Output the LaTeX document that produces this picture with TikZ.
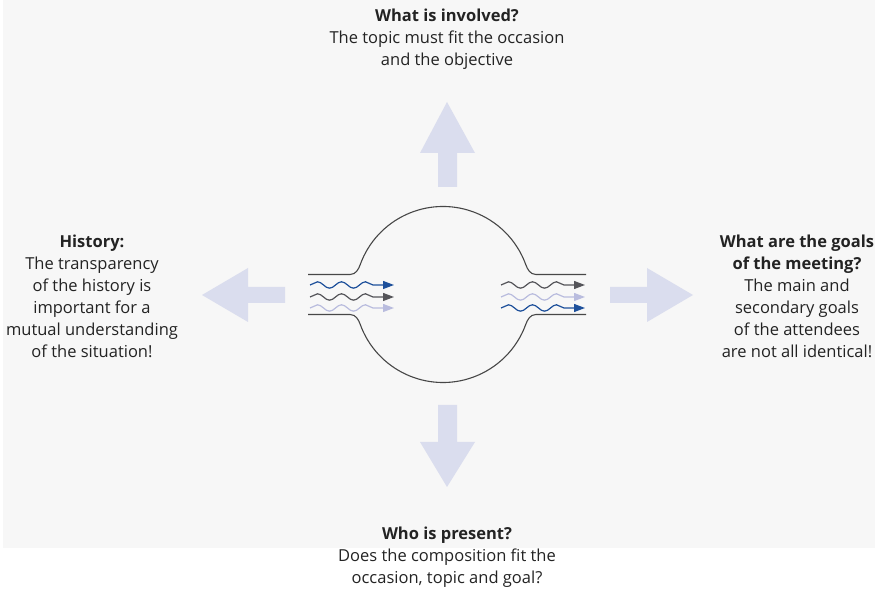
\documentclass[tikz,border=0pt]{standalone}
\usepackage{fontspec}
\setmainfont{Open Sans}
\usetikzlibrary{decorations.pathmorphing,arrows.meta}
\definecolor{pagegray}{RGB}{247,247,247}
\definecolor{bigarrowfill}{RGB}{218,221,238}
\definecolor{wblue}{RGB}{30,80,155}
\definecolor{wgray}{RGB}{85,85,90}
\definecolor{wlav}{RGB}{185,188,222}
\definecolor{txt}{RGB}{35,35,35}

\begin{document}
\begin{tikzpicture}[x=1pt,y=1pt,
  labeltext/.style={align=center, inner sep=0pt, anchor=north, text=txt,
    font=\fontsize{16.5}{22}\selectfont},
  flow/.style={line width=1.2pt, decorate,
    decoration={snake, segment length=24pt, amplitude=3.2pt, post length=10pt},
    -{Triangle[length=11pt,width=8pt]}},
  wall/.style={draw=black!72, line width=1.1pt},
  bigarrow/.style={fill=bigarrowfill}]

\useasboundingbox (0,0) rectangle (878,589);
\fill[pagegray] (3,41) rectangle (875,589);

% the room: a round chamber with an inlet and an outlet tube
\begin{scope}[yshift=0.5pt]
\draw[wall] (308,314) -- (350,314)
  .. controls (356,314) and (358.6,319.4) .. (360.3,324.1)
  arc[start angle=160, end angle=20, radius=88]
  .. controls (527.4,319.4) and (530,314) .. (536,314) -- (586,314);
\draw[wall] (308,274) -- (350,274)
  .. controls (356,274) and (358.6,268.6) .. (360.3,263.9)
  arc[start angle=200, end angle=340, radius=88]
  .. controls (527.4,268.6) and (530,274) .. (536,274) -- (586,274);
\end{scope}

% incoming flows
\coordinate (inA0) at (310,304); \coordinate (inA1) at (394,304);
\coordinate (inB0) at (310,292); \coordinate (inB1) at (394,292);
\coordinate (inC0) at (310,281); \coordinate (inC1) at (394,281);
\draw[flow, wblue] (inA0) -- (inA1);
\draw[flow, wgray] (inB0) -- (inB1);
\draw[flow, wlav]  (inC0) -- (inC1);

% outgoing flows
\coordinate (outA0) at (501,304); \coordinate (outA1) at (585,304);
\coordinate (outB0) at (501,292); \coordinate (outB1) at (585,292);
\coordinate (outC0) at (501,281); \coordinate (outC1) at (585,281);
\draw[flow, wgray] (outA0) -- (outA1);
\draw[flow, wlav]  (outB0) -- (outB1);
\draw[flow, wblue] (outC0) -- (outC1);

% the four block arrows
\fill[bigarrow] (438,402) -- (438,436) -- (420,436) -- (447,487)
  -- (475,436) -- (457,436) -- (457,402) -- cycle;
\fill[bigarrow] (438,184) -- (438,147) -- (420,147) -- (447,102)
  -- (475,147) -- (457,147) -- (457,184) -- cycle;
\fill[bigarrow] (285,302) -- (248,302) -- (248,321) -- (202,294)
  -- (248,267) -- (248,286) -- (285,286) -- cycle;
\fill[bigarrow] (610,302) -- (647,302) -- (647,321) -- (693,294)
  -- (647,267) -- (647,286) -- (610,286) -- cycle;

% texts
\node[labeltext] (topq) at (447,580)
  {\textbf{What is involved?}\\The topic must fit the occasion\\and the objective};
\node[labeltext] (leftq) at (92,354)
  {\textbf{History:}\\The transparency\\of the history is\\important for a\\mutual understanding\\of the situation!};
\node[labeltext] (rightq) at (797,354)
  {\textbf{What are the goals}\\\textbf{of the meeting?}\\The main and\\secondary goals\\of the attendees\\are not all identical!};
\node[labeltext] (bottomq) at (447,62.5)
  {\textbf{Who is present?}\\Does the composition fit the\\occasion, topic and goal?};
\end{tikzpicture}
\end{document}
